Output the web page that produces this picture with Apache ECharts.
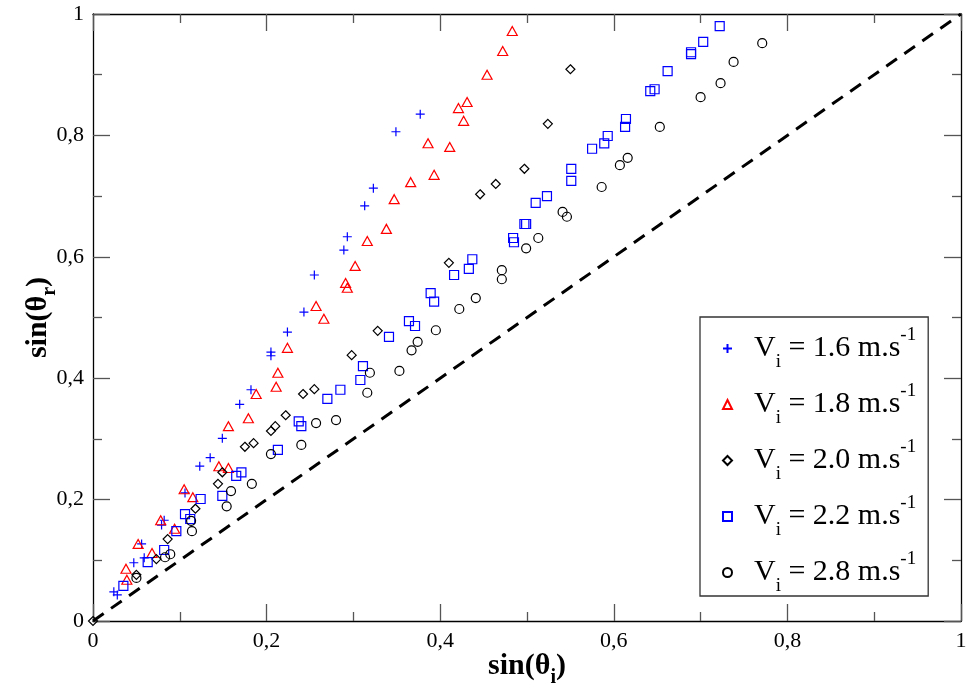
<!DOCTYPE html>
<html>
<head>
<meta charset="utf-8">
<script src="https://cdn.jsdelivr.net/npm/echarts@6/dist/echarts.min.js"></script>
<style>
  html, body { margin: 0; padding: 0; background: #fff; }
  #main { width: 967px; height: 697px; }
</style>
</head>
<body>
<div id="main"></div>
<script>
// sin(theta_i), sin(theta_r) pairs
var v16 = [
  [0.024, 0.048], [0.028, 0.043], [0.047, 0.096], [0.059, 0.104], [0.056, 0.127],
  [0.082, 0.166], [0.079, 0.158], [0.106, 0.211], [0.123, 0.255], [0.135, 0.269],
  [0.149, 0.301], [0.169, 0.357], [0.182, 0.381], [0.205, 0.443], [0.205, 0.437],
  [0.224, 0.476], [0.243, 0.509], [0.255, 0.570], [0.289, 0.611], [0.293, 0.633],
  [0.313, 0.684], [0.323, 0.713], [0.349, 0.806], [0.377, 0.835]
];
var v18 = [
  [0.038, 0.086], [0.039, 0.068], [0.052, 0.127], [0.068, 0.112], [0.078, 0.166],
  [0.094, 0.152], [0.105, 0.217], [0.115, 0.204], [0.145, 0.255], [0.156, 0.252],
  [0.156, 0.321], [0.179, 0.334], [0.188, 0.374], [0.211, 0.386], [0.213, 0.409],
  [0.224, 0.450], [0.257, 0.519], [0.266, 0.498], [0.291, 0.557], [0.293, 0.549],
  [0.302, 0.585], [0.316, 0.626], [0.338, 0.646], [0.347, 0.695], [0.366, 0.723],
  [0.393, 0.735], [0.386, 0.787], [0.411, 0.781], [0.421, 0.845], [0.427, 0.824],
  [0.431, 0.855], [0.454, 0.900], [0.472, 0.939], [0.483, 0.972]
];
var v20 = [
  [0.0, 0.0], [0.050, 0.076], [0.073, 0.102], [0.086, 0.135], [0.118, 0.185],
  [0.144, 0.226], [0.149, 0.245], [0.175, 0.287], [0.185, 0.293], [0.205, 0.313],
  [0.210, 0.321], [0.222, 0.339], [0.242, 0.374], [0.255, 0.382], [0.298, 0.438],
  [0.328, 0.478], [0.410, 0.590], [0.446, 0.703], [0.464, 0.720], [0.497, 0.745],
  [0.524, 0.819], [0.550, 0.909]
];
var v22 = [
  [0.035, 0.058], [0.063, 0.097], [0.082, 0.117], [0.096, 0.148], [0.106, 0.176],
  [0.112, 0.168], [0.124, 0.201], [0.149, 0.206], [0.165, 0.239], [0.171, 0.245],
  [0.213, 0.282], [0.237, 0.329], [0.240, 0.321], [0.270, 0.366], [0.285, 0.381],
  [0.308, 0.397], [0.311, 0.420], [0.341, 0.468], [0.364, 0.494], [0.371, 0.486],
  [0.389, 0.540], [0.393, 0.526], [0.416, 0.570], [0.433, 0.580], [0.437, 0.596],
  [0.484, 0.631], [0.485, 0.624], [0.497, 0.654], [0.499, 0.654], [0.510, 0.689],
  [0.523, 0.700], [0.551, 0.745], [0.551, 0.725], [0.575, 0.778], [0.589, 0.787],
  [0.593, 0.799], [0.613, 0.814], [0.614, 0.827], [0.642, 0.873], [0.647, 0.876],
  [0.662, 0.906], [0.689, 0.937], [0.689, 0.934], [0.703, 0.954], [0.722, 0.980]
];
var v28 = [
  [0.050, 0.071], [0.083, 0.105], [0.089, 0.110], [0.113, 0.165], [0.114, 0.148],
  [0.154, 0.189], [0.159, 0.214], [0.183, 0.226], [0.205, 0.275], [0.240, 0.290],
  [0.257, 0.326], [0.280, 0.331], [0.316, 0.376], [0.319, 0.409], [0.353, 0.412],
  [0.367, 0.446], [0.374, 0.460], [0.395, 0.479], [0.422, 0.514], [0.441, 0.532],
  [0.471, 0.578], [0.471, 0.563], [0.499, 0.614], [0.513, 0.631], [0.541, 0.674],
  [0.546, 0.666], [0.586, 0.715], [0.607, 0.751], [0.616, 0.763], [0.653, 0.814],
  [0.700, 0.863], [0.723, 0.886], [0.738, 0.921], [0.771, 0.952]
];
var diagonal = [[0, 0], [1, 1]];
var tickLabels = ['0', '0,2', '0,4', '0,6', '0,8', '1'];
var speeds = ['1.6', '1.8', '2.0', '2.2', '2.8'];

var serif = 'Liberation Serif';
var plusPath = 'path://M0,5L10,5M5,0L5,10';

function tickFmt(val) {
  return tickLabels[Math.round(val / 0.2)];
}

function axisBase(pos, showLabel) {
  return {
    type: 'value',
    position: pos,
    min: 0,
    max: 1,
    interval: 0.2,
    axisLine: { show: true, onZero: false, lineStyle: { color: '#000', width: 1.3 } },
    axisTick: { show: true, inside: true, length: 17, lineStyle: { color: '#555', width: 1.3 } },
    minorTick: { show: true, splitNumber: 2, length: 9, lineStyle: { color: '#555', width: 1.3 } },
    splitLine: { show: false },
    axisLabel: {
      show: showLabel,
      formatter: tickFmt,
      fontFamily: serif,
      fontSize: 22,
      color: '#000',
      margin: 9
    }
  };
}

// axis titles, subscript pushed down with top padding
var titleRich = {
  t: { fontFamily: serif, fontWeight: 'bold', fontSize: 30, color: '#000', lineHeight: 46, verticalAlign: 'middle' },
  s: { fontFamily: serif, fontWeight: 'bold', fontSize: 20, color: '#000', lineHeight: 23, padding: [23, 0, 0, 0], verticalAlign: 'middle' }
};

var xMain = axisBase('bottom', true);
xMain.name = '{t|sin(θ}{s|i}{t|)}';
xMain.nameLocation = 'middle';
xMain.nameGap = 22;
xMain.nameMoveOverlap = false;
xMain.nameTextStyle = { rich: titleRich };
var yMain = axisBase('left', true);
yMain.name = '{t|sin(θ}{s|r}{t|)}';
yMain.nameLocation = 'middle';
yMain.nameGap = 32;
yMain.nameMoveOverlap = false;
yMain.nameTextStyle = { rich: titleRich };

var legendRich = {
  v: { fontFamily: serif, fontSize: 30, color: '#000', lineHeight: 50, verticalAlign: 'middle', padding: [0, 0, 0, 17] },
  t: { fontFamily: serif, fontSize: 30, color: '#000', lineHeight: 50, verticalAlign: 'middle' },
  s: { fontFamily: serif, fontSize: 19, color: '#000', lineHeight: 22, padding: [28, 0, 0, 0], verticalAlign: 'middle' },
  p: { fontFamily: serif, fontSize: 19, color: '#000', lineHeight: 22, padding: [0, 0, 26, 0], verticalAlign: 'middle' }
};

function pointSeries(idx, data, symbol, color) {
  return {
    name: 'V' + idx,
    type: 'scatter',
    data: data,
    symbol: symbol,
    symbolSize: symbol === 'triangle' ? [10, 9] : 9,
    itemStyle: { color: 'rgba(0,0,0,0)', borderColor: color, borderWidth: 1.2, opacity: 1 },
    emphasis: { disabled: true }
  };
}

var option = {
  backgroundColor: '#fff',
  animation: false,
  grid: { left: 93, top: 14, right: 6, bottom: 76, outerBoundsMode: 'none', containLabel: false },
  xAxis: [xMain, axisBase('top', false)],
  yAxis: [yMain, axisBase('right', false)],
  legend: {
    orient: 'vertical',
    left: 700,
    top: 317,
    padding: [8, 12, 0, 22],
    itemGap: 9,
    itemWidth: 9,
    itemHeight: 9,
    borderColor: '#333',
    borderWidth: 1.3,
    backgroundColor: '#fff',
    data: ['V0', 'V1', 'V2', 'V3', 'V4'],
    formatter: function (name) {
      var sp = speeds[+name.slice(1)];
      return '{v|V}{s|i}{t| = ' + sp + ' m.s}{p|-1}';
    },
    textStyle: { rich: legendRich }
  },
  series: [
    pointSeries(0, v16, plusPath, '#0000ff'),
    pointSeries(1, v18, 'triangle', '#ff0000'),
    pointSeries(2, v20, 'diamond', '#000000'),
    pointSeries(3, v22, 'rect', '#0000ff'),
    pointSeries(4, v28, 'circle', '#000000'),
    {
      name: 'diag',
      type: 'line',
      data: diagonal,
      symbol: 'none',
      silent: true,
      z: 1,
      lineStyle: { color: '#000', width: 3, type: [13, 9] }
    }
  ]
};

var myChart = echarts.init(document.getElementById('main'));
myChart.setOption(option);
</script>
</body>
</html>
